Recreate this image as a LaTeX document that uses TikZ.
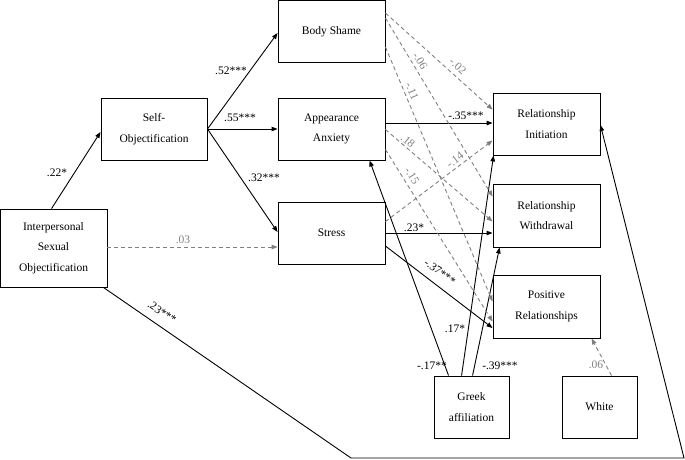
\documentclass[tikz,border=0pt]{standalone}
\usepackage{fontspec}
\setmainfont{Liberation Serif}
\usetikzlibrary{arrows.meta,calc}
\definecolor{linegray}{RGB}{128,128,128}
\begin{document}
\begin{tikzpicture}[x=1pt,y=-1pt,
  box/.style={draw,line width=0.9pt,align=center,inner sep=0pt,font=\fontsize{11.5}{20.5}\selectfont},
  lab/.style={inner sep=0pt,font=\fontsize{11.5}{13}\selectfont},
  glab/.style={lab,text=linegray},
  sarr/.style={draw,line width=0.9pt,-{Triangle[length=6pt,width=4.5pt]}},
  darr/.style={draw=linegray,line width=0.9pt,dash pattern=on 4pt off 3pt,-{Triangle[length=6pt,width=4.5pt]}}]
\useasboundingbox (0,0) rectangle (685,459);
% boxes
\node[box,minimum width=107,minimum height=78] (iso) at (53.5,248) {Interpersonal\\Sexual\\Objectification};
\node[box,minimum width=106,minimum height=62] (so) at (154,129) {Self-\\Objectification};
\node[box,minimum width=107,minimum height=62] (bs) at (331.5,31.5) {Body Shame};
\node[box,minimum width=107,minimum height=62] (aa) at (331.5,129) {Appearance\\Anxiety};
\node[box,minimum width=107,minimum height=62] (st) at (331.5,233) {Stress};
\node[box,minimum width=107,minimum height=62] (ri) at (546.5,124) {Relationship\\Initiation};
\node[box,minimum width=107,minimum height=63] (rw) at (546.5,215.5) {Relationship\\Withdrawal};
\node[box,minimum width=107,minimum height=63] (pr) at (546.5,306.5) {Positive\\Relationships};
\node[box,minimum width=75,minimum height=62] (gr) at (471.5,407) {Greek\\affiliation};
\node[box,minimum width=75,minimum height=62] (wh) at (599.5,407) {White};
\coordinate (c1) at (351,458);
\coordinate (c2) at (684,458);
% solid paths
\draw[sarr] ($(iso.north west)+(52,0)$) -- ($(so.west)+(0,3)$);
\draw[sarr] (so.east) -- ($(bs.west)+(0,1.5)$);
\draw[sarr] (so.east) -- (aa.west);
\draw[sarr] (so.east) -- ($(st.west)+(0,-1)$);
\draw[sarr] ($(aa.east)+(0,-6)$) -- ($(ri.west)+(0,-1)$);
\draw[sarr] (st.east) -- (st.east -| rw.west);
\draw[sarr] ($(st.east)+(0,13)$) -- ($(pr.west)+(0,21.5)$);
\draw[sarr] ($(gr.north west)+(15,0)$) -- ($(aa.south west)+(92,0)$);
\draw[sarr] ($(gr.north west)+(28,0)$) -- ($(ri.south west)+(1,0)$);
\draw[sarr] ($(gr.north west)+(39,0)$) -- ($(rw.south west)+(7,0)$);
\draw[sarr] ($(iso.south east)+(-4,0)$) -- (c1) -- (c2) -- ($(ri.east)+(0,1)$);
% dashed paths
\draw[darr] ($(iso.east)+(0,-1)$) -- ($(st.west)+(0,14)$);
\draw[darr] ($(bs.north east)+(0,13)$) -- ($(ri.north west)+(0,17)$);
\draw[darr] ($(bs.north east)+(0,18)$) -- ($(rw.north west)+(0,13)$);
\draw[darr] ($(bs.north east)+(0,47)$) -- ($(pr.north west)+(0,27)$);
\draw[darr] ($(aa.north east)+(0,32)$) -- ($(rw.north west)+(0,38)$);
\draw[darr] ($(aa.north east)+(0,52)$) -- ($(pr.north west)+(0,47)$);
\draw[darr] ($(st.north east)+(0,20)$) -- ($(ri.south west)+(0,-15)$);
\draw[darr] ($(wh.north west)+(50,0)$) -- ($(pr.south west)+(99,0)$);
% labels
\node[lab] (l22) at (57,173) {.22*};
\node[lab] (l52) at (231,71) {.52***};
\node[lab] (l55) at (240,118) {.55***};
\node[lab] (l32) at (264,178) {.32***};
\node[glab] (l03) at (183,240) {.03};
\node[lab] (l35) at (466,116) {-.35***};
\node[glab,rotate=-42] (l02) at (458,66) {-.02};
\node[glab,rotate=-59] (l06) at (420,61) {-.06};
\node[glab,rotate=-67] (l11) at (412,91) {-.11};
\node[glab,rotate=-40] (l18) at (408,141) {.18};
\node[glab,rotate=-58] (l15) at (412,176) {-.15};
\node[glab,rotate=37] (l14) at (455,160) {-.14};
\node[lab] (l23s) at (414,228) {.23*};
\node[lab,rotate=-36] (l37) at (440,272) {-.37***};
\node[lab] (l17s) at (455,329) {.17*};
\node[lab] (l17) at (432,366) {-.17**};
\node[lab] (l39) at (500,366) {-.39***};
\node[glab] (l06w) at (596,365) {.06};
\node[lab,rotate=-34] (l23) at (162,312) {.23***};
\end{tikzpicture}
\end{document}
